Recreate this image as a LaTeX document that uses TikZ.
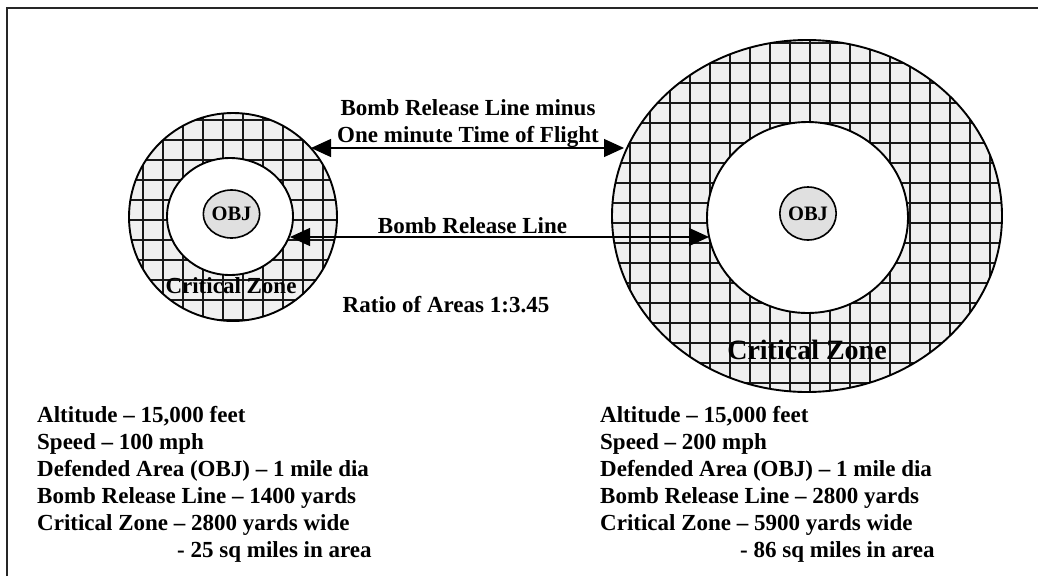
\documentclass[tikz,border=0pt]{standalone}
\usepackage{fontspec}
\setmainfont{Liberation Serif}
\usetikzlibrary{arrows.meta,shapes.geometric}
\begin{document}
\begin{tikzpicture}[x=1pt,y=-1pt,
  txt/.style={font=\fontsize{23}{27}\selectfont\bfseries, inner sep=0pt},
  bigtxt/.style={font=\fontsize{28}{32}\selectfont\bfseries, inner sep=0pt},
  objc/.style={ellipse, draw, line width=1.6pt, fill=black!12, inner sep=0pt,
    font=\fontsize{20.5}{22}\selectfont\bfseries},
  ring/.style={line width=1.9pt},
  gridline/.style={line width=2.4pt, black!90},
  cellfill/.style={fill=black!6},
  arr/.style={line width=1.2pt, {Triangle[length=20pt,width=18pt]}-{Triangle[length=20pt,width=18pt]}},
  frame/.style={line width=2.2pt, black!85}]
\useasboundingbox (0,0) rectangle (1038,576);
\fill[white] (0,0) rectangle (1038,576);
\draw[frame] (7,576) -- (7,8) -- (1038,8);

% ---- left target ----
\begin{scope}
  \clip (233,217) ellipse [x radius=104pt, y radius=104pt];
  \fill[cellfill] (120,100) rectangle (350,330);
  \foreach \x in {123,143,...,343} \draw[gridline] (\x,100) -- (\x,330);
  \foreach \y in {100,120,...,340} \draw[gridline] (120,\y) -- (350,\y);
\end{scope}
\draw[ring] (233,217) ellipse [x radius=104pt, y radius=104pt];
\filldraw[ring, fill=white] (230,216.5) ellipse [x radius=63pt, y radius=58.5pt];
\node[objc, minimum width=53pt, minimum height=48pt] (obj1) at (231.5,214) {OBJ};
\node[txt, anchor=base] (cz1) at (231,293) {Critical Zone};

% ---- right target ----
\begin{scope}
  \clip (807,216) ellipse [x radius=195pt, y radius=176pt];
  \fill[cellfill] (600,30) rectangle (1010,400);
  \foreach \x in {610,630,...,1010} \draw[gridline] (\x,30) -- (\x,400);
  \foreach \y in {23,43,...,403} \draw[gridline] (600,\y) -- (1010,\y);
\end{scope}
\draw[ring] (807,216) ellipse [x radius=195pt, y radius=176pt];
\filldraw[ring, fill=white] (807.5,217.5) ellipse [x radius=100.5pt, y radius=95.5pt];
\node[objc, minimum width=56pt, minimum height=53pt] (obj2) at (808,213.5) {OBJ};
\node[bigtxt, anchor=base] (cz2) at (807,359) {Critical Zone};

% ---- arrows ----
\coordinate (ta) at (311,148);
\coordinate (tb) at (624,148);
\coordinate (la) at (290,237);
\coordinate (lb) at (709,237);
\draw[arr] (ta) -- (tb);
\draw[arr] (la) -- (lb);

\node[txt, anchor=base] (t1) at (468,115) {Bomb Release Line minus};
\node[txt, anchor=base] (t2) at (468,142) {One minute Time of Flight};
\node[txt, anchor=base] (brl) at (472.5,233) {Bomb Release Line};
\node[txt, anchor=base] (ratio) at (446,312) {Ratio of Areas 1:3.45};

% ---- left data ----
\node[txt, anchor=base west] (l1) at (37,422) {Altitude -- 15,000 feet};
\node[txt, anchor=base west] (l2) at (37,449) {Speed -- 100 mph};
\node[txt, anchor=base west] (l3) at (37,476) {Defended Area (OBJ) -- 1 mile dia};
\node[txt, anchor=base west] (l4) at (37,503) {Bomb Release Line -- 1400 yards};
\node[txt, anchor=base west] (l5) at (37,530) {Critical Zone -- 2800 yards wide};
\node[txt, anchor=base west] (l6) at (177,557) {- 25 sq miles in area};

% ---- right data ----
\node[txt, anchor=base west] (r1) at (600,422) {Altitude -- 15,000 feet};
\node[txt, anchor=base west] (r2) at (600,449) {Speed -- 200 mph};
\node[txt, anchor=base west] (r3) at (600,476) {Defended Area (OBJ) -- 1 mile dia};
\node[txt, anchor=base west] (r4) at (600,503) {Bomb Release Line -- 2800 yards};
\node[txt, anchor=base west] (r5) at (600,530) {Critical Zone -- 5900 yards wide};
\node[txt, anchor=base west] (r6) at (740,557) {- 86 sq miles in area};
\end{tikzpicture}
\end{document}
